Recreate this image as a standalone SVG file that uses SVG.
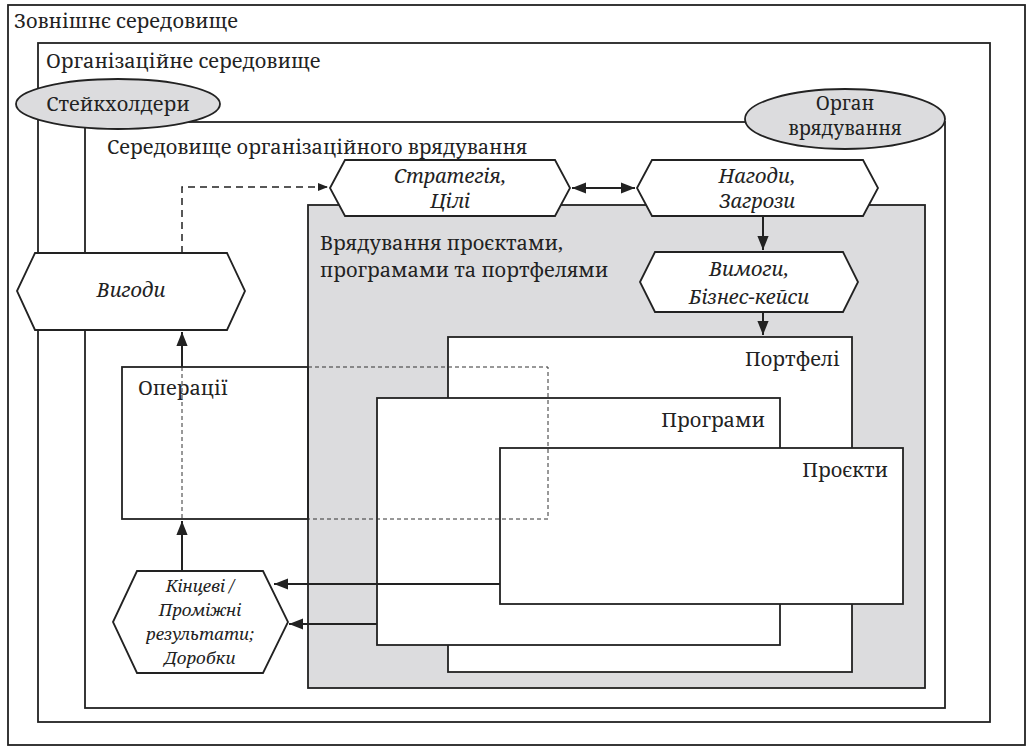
<svg xmlns="http://www.w3.org/2000/svg" width="1030" height="750" viewBox="0 0 1030 750">
<defs>
<marker id="a" viewBox="0 0 10 10" refX="10" refY="5" markerWidth="7" markerHeight="7" orient="auto-start-reverse"><path d="M0,1 L10,5 L0,9 z" fill="#222"/></marker>
<style>
.f{fill:none;stroke:#222;stroke-width:1.8}
.w{fill:#fff;stroke:#222;stroke-width:1.8}
.g{fill:#dcdcde;stroke:#222;stroke-width:1.8}
.t{font-family:"Noto Serif","DejaVu Serif","Liberation Serif",serif;font-size:20px;fill:#222}
.s{font-size:17px}
.o{font-size:19px}
.i{font-style:italic;text-anchor:middle}
.c{stroke:#222;stroke-width:2;fill:none}
.d{stroke:#222;stroke-width:1.5;fill:none;stroke-dasharray:7,5}
.td{stroke:#333;stroke-width:1;fill:none;stroke-dasharray:4,3}
</style>
</defs>
<rect width="1030" height="750" fill="#fff"/>
<g id="outer"><rect class="f" x="8" y="5" width="1017" height="740"/><text class="t" x="14" y="28">Зовнішнє середовище</text></g>
<g id="org"><rect class="f" x="38" y="43" width="952" height="679"/><text class="t" x="46" y="68">Організаційне середовище</text></g>
<g id="gov"><rect class="f" x="85" y="122" width="860" height="586"/><text class="t" x="107" y="154">Середовище організаційного врядування</text></g>
<g id="stake"><ellipse class="g" cx="118" cy="104" rx="102" ry="25"/><text class="t" x="118" y="111" text-anchor="middle">Стейкхолдери</text></g>
<g id="organ"><ellipse class="g" cx="845" cy="119" rx="100" ry="30"/><text class="t o" x="845" y="110" text-anchor="middle">Орган</text><text class="t o" x="845" y="135" text-anchor="middle">врядування</text></g>
<g id="ppp"><rect class="g" x="308" y="205" width="617" height="483"/><text class="t" x="320" y="250">Врядування проєктами,</text><text class="t" x="320" y="277">програмами та портфелями</text></g>
<g id="portf"><rect class="w" x="448" y="337" width="404" height="335"/><text class="t" x="840" y="366" text-anchor="end">Портфелі</text></g>
<g id="progr"><rect class="w" x="377" y="398" width="403" height="247"/><text class="t" x="765" y="427" text-anchor="end">Програми</text></g>
<g id="proj"><rect class="w" x="500" y="448" width="403" height="156"/><text class="t" x="888" y="477" text-anchor="end">Проєкти</text></g>
<g id="ops"><rect class="f" x="122" y="367" width="186" height="152"/><path class="td" d="M308,367 H548 V519 H308 M182,367 V519"/><text class="t" x="138" y="395">Операції</text></g>
<g id="strat"><polygon class="w" points="330,188 345,160 555,160 570,188 555,216 345,216"/><text class="t i" x="450" y="183">Стратегія,</text><text class="t i" x="450" y="208">Цілі</text></g>
<g id="opp"><polygon class="w" points="637,188 652,160 863,160 878,188 863,216 652,216"/><text class="t i" x="757" y="183">Нагоди,</text><text class="t i" x="757" y="208">Загрози</text></g>
<g id="req"><polygon class="w" points="640,282 655,252 843,252 858,282 843,312 655,312"/><text class="t i" x="749" y="276">Вимоги,</text><text class="t i" x="749" y="304">Бізнес-кейси</text></g>
<g id="ben"><polygon class="w" points="17,291 35,253 227,253 245,291 227,330 35,330"/><text class="t i" x="131" y="297">Вигоди</text></g>
<g id="res"><polygon class="w" points="113,622 137,571 263,571 288,622 263,673 137,673"/><text class="t i s" x="200" y="592">Кінцеві /</text><text class="t i s" x="200" y="616">Проміжні</text><text class="t i s" x="200" y="640">результати;</text><text class="t i s" x="200" y="664">Доробки</text></g>
<g id="connectors">
<path class="d" d="M182,253 V187 H328" marker-end="url(#a)"/>
<path class="c" d="M572,188 H635" marker-start="url(#a)" marker-end="url(#a)"/>
<path class="c" d="M763,216 V250" marker-end="url(#a)"/>
<path class="c" d="M763,312 V335" marker-end="url(#a)"/>
<path class="c" d="M182,367 V332" marker-end="url(#a)"/>
<path class="c" d="M182,571 V521" marker-end="url(#a)"/>
<path class="c" d="M500,584 H274" marker-end="url(#a)"/>
<path class="c" d="M377,624 H289" marker-end="url(#a)"/>
</g>
</svg>
